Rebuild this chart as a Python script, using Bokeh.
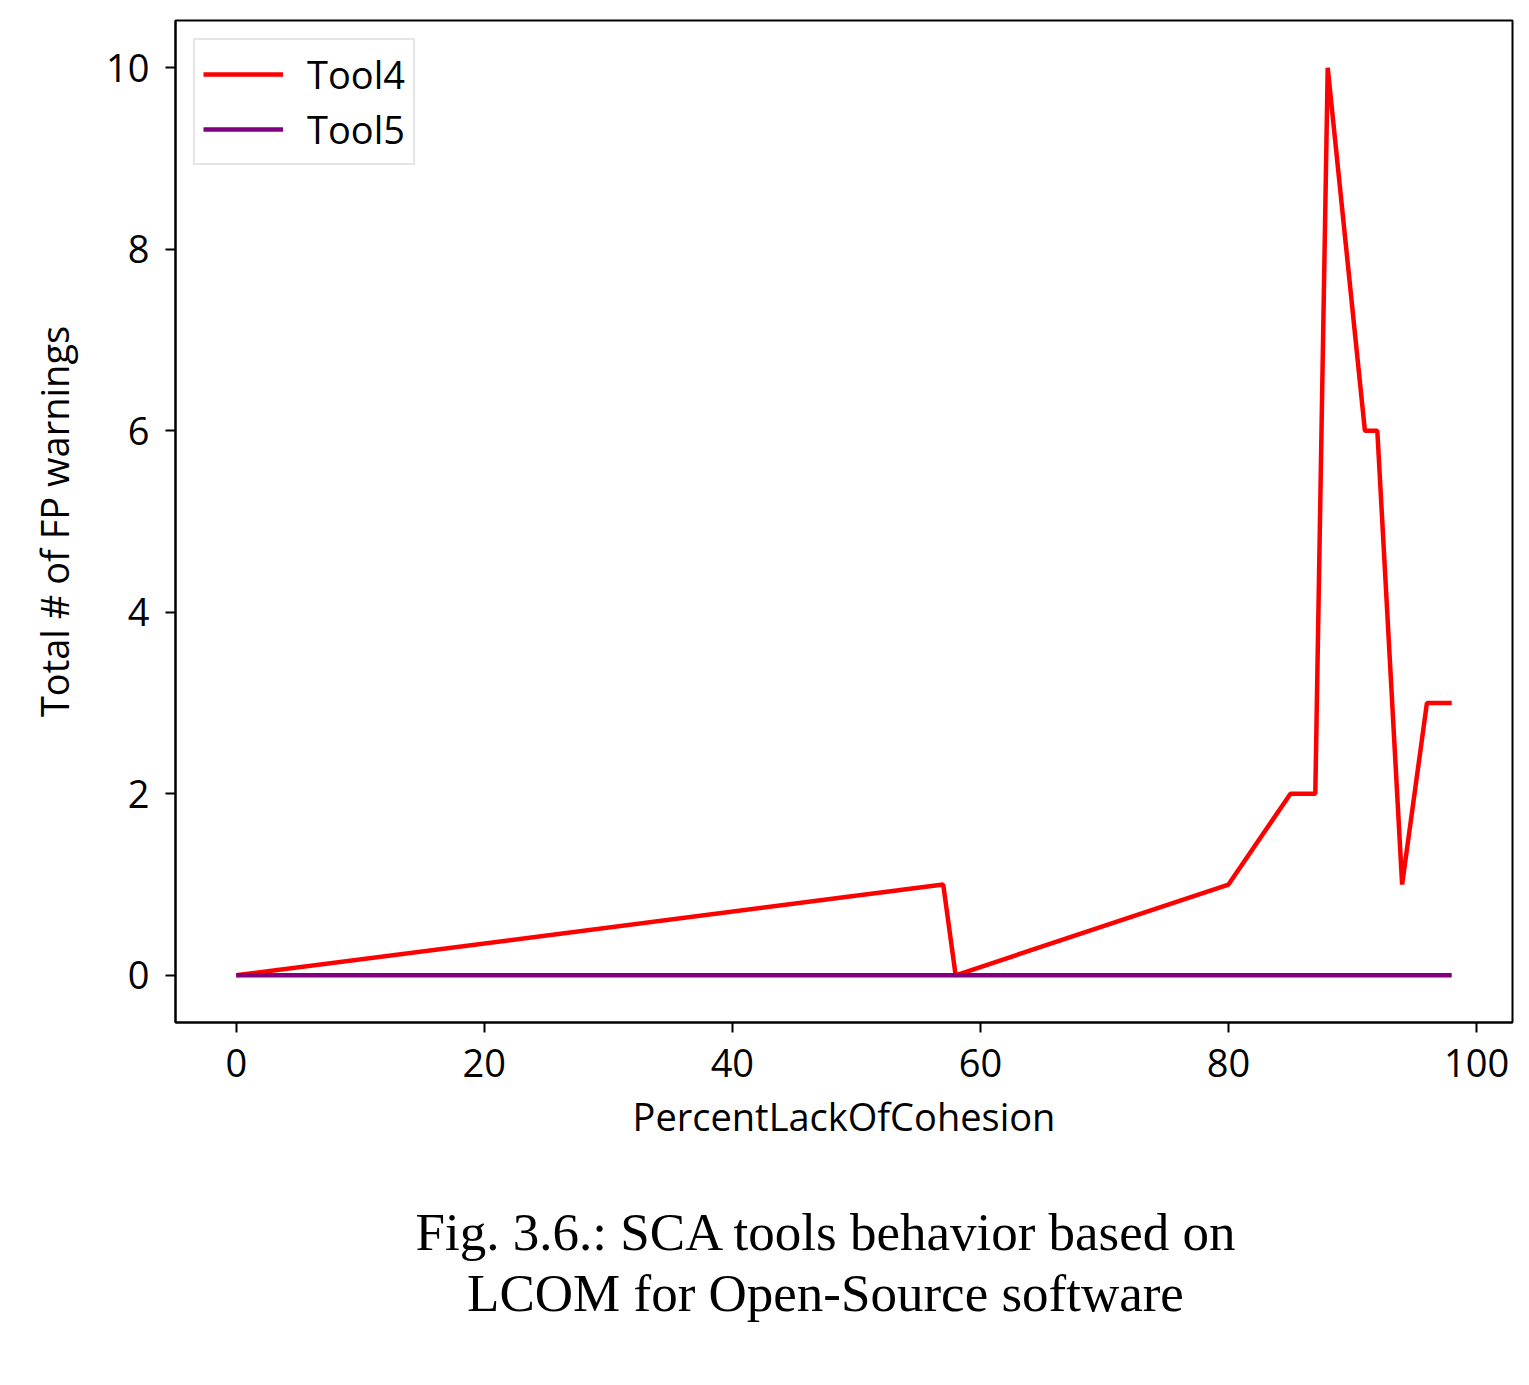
from bokeh.plotting import figure
from bokeh.layouts import column
from bokeh.models import Div, Range1d, FixedTicker, Legend, LegendItem
from bokeh.embed import file_html
from bokeh.resources import INLINE

# PercentLackOfCohesion values and false-positive warning totals per tool
lcom_tool4 = [0, 57, 58, 80, 85, 87, 88, 91, 92, 94, 96, 98]
fp_tool4 = [0, 1, 0, 1, 2, 2, 10, 6, 6, 1, 3, 3]
lcom_tool5 = [0, 57, 58, 80, 85, 87, 88, 91, 92, 94, 96, 98]
fp_tool5 = [0, 0, 0, 0, 0, 0, 0, 0, 0, 0, 0, 0]

x_ticks = [0, 20, 40, 60, 80, 100]
y_ticks = [0, 2, 4, 6, 8, 10]

FONT = "Open Sans"
FONT_SIZE = "38px"

p = figure(
    width=1529, height=1144,
    output_backend="svg", toolbar_location=None,
    x_range=Range1d(-4.9, 102.9), y_range=Range1d(-0.52, 10.52),
    min_border_left=175, min_border_right=17, min_border_top=20,
    min_border_bottom=10,
)

r4 = p.line(lcom_tool4, fp_tool4, line_color="#ff0000", line_width=4.5)
r5 = p.line(lcom_tool5, fp_tool5, line_color="#800080", line_width=4.5)

p.xgrid.visible = False
p.ygrid.visible = False
p.outline_line_color = "black"
p.outline_line_width = 2

for ax in (p.xaxis[0], p.yaxis[0]):
    ax.axis_line_color = "black"
    ax.axis_line_width = 2
    ax.major_tick_out = 10
    ax.major_tick_in = 0
    ax.major_tick_line_width = 2
    ax.minor_tick_line_color = None
    ax.major_label_text_font = FONT
    ax.major_label_text_font_size = FONT_SIZE
    ax.major_label_text_color = "black"
    ax.axis_label_text_font = FONT
    ax.axis_label_text_font_size = FONT_SIZE
    ax.axis_label_text_font_style = "normal"
    ax.axis_label_text_color = "black"

p.xaxis.ticker = FixedTicker(ticks=x_ticks)
p.yaxis.ticker = FixedTicker(ticks=y_ticks)
p.xaxis.axis_label = "PercentLackOfCohesion"
p.yaxis.axis_label = "Total # of FP warnings"
p.xaxis.major_label_standoff = 16
p.yaxis.major_label_standoff = 16
p.xaxis.axis_label_standoff = 10
p.yaxis.axis_label_standoff = 23

legend = Legend(
    items=[LegendItem(label="Tool4", renderers=[r4]),
           LegendItem(label="Tool5", renderers=[r5])],
    location="top_left",
    label_text_font=FONT, label_text_font_size=FONT_SIZE,
    label_text_color="black",
    glyph_width=80, glyph_height=40, label_standoff=24,
    spacing=3, padding=8, margin=18,
    border_line_color="#cccccc", border_line_width=2,
    background_fill_alpha=0.8,
)
p.add_layout(legend)

caption = Div(
    text="Fig. 3.6.: SCA tools behavior based on<br>LCOM for Open-Source software",
    width=1529, height=241,
    styles={
        "font-family": "'Liberation Serif', serif",
        "font-size": "53px",
        "line-height": "61px",
        "text-align": "center",
        "padding-left": "112px",
        "padding-top": "53px",
        "color": "black",
        "box-sizing": "border-box",
        "width": "1529px",
    },
)

layout = column(p, caption, spacing=0)

open("out.html", "w").write(file_html(layout, INLINE))
